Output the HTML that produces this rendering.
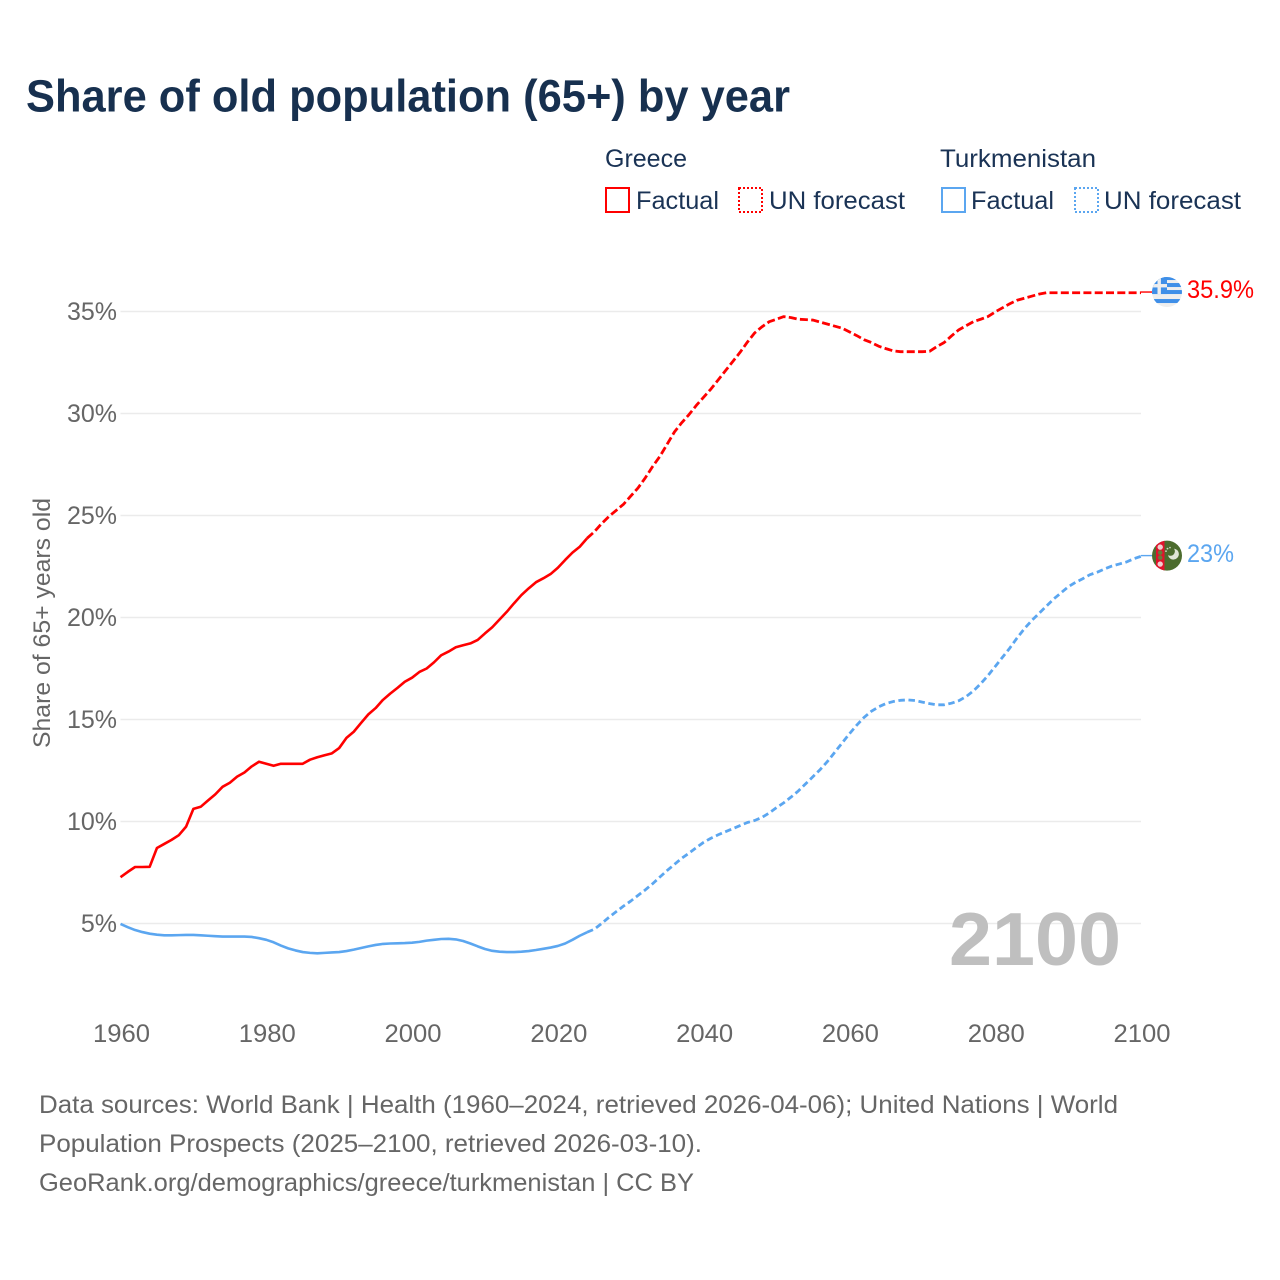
<!DOCTYPE html>
<html lang="en">
<head>
<meta charset="utf-8">
<title>Share of old population (65+) by year</title>
<style>
  html, body { margin: 0; padding: 0; background: #fff; }
  svg { display: block; font-family: "Liberation Sans", sans-serif; }
</style>
</head>
<body>
<svg id="chart" xmlns="http://www.w3.org/2000/svg" width="1280" height="1280" viewBox="0 0 1280 1280">
  <defs>
    <clipPath id="clip-flag"><circle cx="0" cy="0" r="15"></circle></clipPath>
  </defs>
  <rect x="0" y="0" width="1280" height="1280" fill="#ffffff"></rect>

  <text x="26" y="111.5" font-size="45" font-weight="700" fill="#17304f" textLength="764" lengthAdjust="spacingAndGlyphs">Share of old population (65+) by year</text>

  <g font-size="25" fill="#1a3355">
    <text x="605" y="167" textLength="82" lengthAdjust="spacingAndGlyphs">Greece</text>
    <text x="940" y="167" textLength="156" lengthAdjust="spacingAndGlyphs">Turkmenistan</text>
    <rect x="606" y="188" width="23" height="24" fill="none" stroke="#ff0000" stroke-width="2"></rect>
    <text x="636" y="209" textLength="83" lengthAdjust="spacingAndGlyphs">Factual</text>
    <rect x="739" y="188" width="23" height="24" fill="none" stroke="#ff0000" stroke-width="2" stroke-dasharray="2 2"></rect>
    <text x="769" y="209" textLength="136" lengthAdjust="spacingAndGlyphs">UN forecast</text>
    <rect x="942" y="188" width="23" height="24" fill="none" stroke="#5ba6f0" stroke-width="2"></rect>
    <text x="971" y="209" textLength="83" lengthAdjust="spacingAndGlyphs">Factual</text>
    <rect x="1075" y="188" width="23" height="24" fill="none" stroke="#5ba6f0" stroke-width="2" stroke-dasharray="2 2"></rect>
    <text x="1104" y="209" textLength="137" lengthAdjust="spacingAndGlyphs">UN forecast</text>
  </g>

  <g id="grid"></g>
  <g id="y-ticks" font-size="25" fill="#666666" text-anchor="end"></g>
  <g id="x-ticks" font-size="25" fill="#666666" text-anchor="middle"></g>

  <text transform="translate(50,623) rotate(-90)" text-anchor="middle" font-size="24" fill="#666666" textLength="250" lengthAdjust="spacingAndGlyphs">Share of 65+ years old</text>

  <text x="949" y="965" font-size="75" font-weight="700" fill="#bfbfbf" textLength="172" lengthAdjust="spacingAndGlyphs">2100</text>

  <g id="series"></g>

  <g id="flag-gr" clip-path="url(#clip-flag)">
    <rect x="-16" y="-16" width="32" height="32" fill="#eeeeee"></rect>
    <rect x="-16" y="-16" width="32" height="4" fill="#3f8fe8"></rect>
    <rect x="-16" y="-9" width="32" height="4" fill="#3f8fe8"></rect>
    <rect x="-16" y="-2" width="32" height="4" fill="#3f8fe8"></rect>
    <rect x="-16" y="7" width="32" height="4" fill="#3f8fe8"></rect>
    <rect x="-16" y="-16" width="16" height="18" fill="#3f8fe8"></rect>
    <rect x="-9.5" y="-16" width="3.4" height="18" fill="#eeeeee"></rect>
    <rect x="-16" y="-8" width="16" height="3.4" fill="#eeeeee"></rect>
  </g>
  <g id="flag-tm" clip-path="url(#clip-flag)">
    <rect x="-16" y="-16" width="32" height="32" fill="#4c6c2e"></rect>
    <rect x="-11" y="-16" width="8.5" height="32" fill="#e0132c"></rect>
    <circle cx="-6.8" cy="-8.5" r="2.7" fill="#f0d0d0"></circle>
    <circle cx="-6.8" cy="-3" r="2.3" fill="#6a7a3a"></circle>
    <circle cx="-6.8" cy="2" r="2.3" fill="#6a7a3a"></circle>
    <circle cx="-6.8" cy="8.5" r="2.7" fill="#f0d0d0"></circle>
    <path d="M7 -7 A5.5 5.5 0 1 1 1 -0.5 A4.5 4.5 0 0 0 7 -7 Z" fill="#dfe5d6"></path>
    <circle cx="0.5" cy="-7" r="0.9" fill="#cfd8c4"></circle>
    <circle cx="-1" cy="-4.5" r="0.9" fill="#cfd8c4"></circle>
    <circle cx="3" cy="-8" r="0.8" fill="#cfd8c4"></circle>
  </g>

  <text id="label-gr" x="1187" y="298" font-size="25" fill="#ff0000" textLength="67" lengthAdjust="spacingAndGlyphs">35.9%</text>
  <text id="label-tm" x="1187" y="562" font-size="25" fill="#5ba6f0" textLength="47" lengthAdjust="spacingAndGlyphs">23%</text>

  <g font-size="25" fill="#666666">
    <text x="39" y="1113" textLength="1079" lengthAdjust="spacingAndGlyphs">Data sources: World Bank | Health (1960–2024, retrieved 2026-04-06); United Nations | World</text>
    <text x="39" y="1152" textLength="663" lengthAdjust="spacingAndGlyphs">Population Prospects (2025–2100, retrieved 2026-03-10).</text>
    <text x="39" y="1191" textLength="655" lengthAdjust="spacingAndGlyphs">GeoRank.org/demographics/greece/turkmenistan | CC BY</text>
  </g>
</svg>
<script>
const xTicks = [1960, 1980, 2000, 2020, 2040, 2060, 2080, 2100];
const yTicks = [5, 10, 15, 20, 25, 30, 35];

const factualStartYear = 1960;
const forecastStartYear = 2024;

const greeceFactual = [
  7.27, 7.53, 7.77, 7.77, 7.78, 8.70, 8.90, 9.10, 9.33, 9.75,
  10.62, 10.72, 11.03, 11.33, 11.70, 11.90, 12.20, 12.40, 12.70, 12.93,
  12.83, 12.73, 12.83, 12.83, 12.83, 12.83, 13.03, 13.15, 13.25, 13.34,
  13.60, 14.10, 14.40, 14.83, 15.25, 15.56, 15.96, 16.27, 16.55, 16.85,
  17.05, 17.33, 17.50, 17.80, 18.15, 18.33, 18.54, 18.64, 18.73, 18.90,
  19.22, 19.52, 19.90, 20.28, 20.70, 21.10, 21.43, 21.73, 21.92, 22.13,
  22.44, 22.82, 23.18, 23.47, 23.88
];
const greeceForecast = [
  23.88, 24.20, 24.60, 24.95, 25.25, 25.55, 25.95, 26.35, 26.85, 27.40,
  27.90, 28.50, 29.10, 29.55, 29.95, 30.40, 30.80, 31.20, 31.65, 32.10,
  32.55, 33.00, 33.50, 33.95, 34.25, 34.50, 34.62, 34.75, 34.70, 34.62,
  34.60, 34.58, 34.48, 34.38, 34.28, 34.18, 34.00, 33.82, 33.62, 33.48,
  33.30, 33.18, 33.07, 33.03, 33.03, 33.03, 33.03, 33.05, 33.28, 33.48,
  33.80, 34.10, 34.30, 34.50, 34.62, 34.75, 34.98, 35.18, 35.38, 35.55,
  35.65, 35.75, 35.85, 35.92, 35.92, 35.92, 35.92, 35.92, 35.92, 35.92,
  35.92, 35.92, 35.92, 35.92, 35.92, 35.92, 35.92
];
const turkmenistanFactual = [
  4.98, 4.82, 4.68, 4.58, 4.50, 4.45, 4.42, 4.42, 4.43, 4.44,
  4.44, 4.42, 4.40, 4.38, 4.36, 4.36, 4.36, 4.36, 4.34, 4.28,
  4.20, 4.08, 3.92, 3.78, 3.68, 3.60, 3.56, 3.54, 3.56, 3.58,
  3.60, 3.65, 3.72, 3.80, 3.88, 3.95, 4.00, 4.02, 4.03, 4.04,
  4.06, 4.10, 4.16, 4.20, 4.24, 4.25, 4.22, 4.14, 4.02, 3.88,
  3.75, 3.66, 3.62, 3.60, 3.60, 3.62, 3.65, 3.70, 3.76, 3.82,
  3.90, 4.02, 4.20, 4.40, 4.57
];
const turkmenistanForecast = [
  4.57, 4.72, 5.00, 5.30, 5.58, 5.85, 6.10, 6.38, 6.65, 6.95,
  7.28, 7.60, 7.90, 8.20, 8.45, 8.72, 8.98, 9.18, 9.35, 9.50,
  9.65, 9.80, 9.95, 10.05, 10.20, 10.42, 10.68, 10.92, 11.20, 11.50,
  11.85, 12.20, 12.55, 12.95, 13.40, 13.85, 14.30, 14.72, 15.10, 15.40,
  15.62, 15.78, 15.88, 15.94, 15.96, 15.93, 15.85, 15.78, 15.72, 15.72,
  15.80, 15.92, 16.12, 16.40, 16.75, 17.15, 17.60, 18.05, 18.50, 19.00,
  19.45, 19.85, 20.20, 20.55, 20.90, 21.20, 21.50, 21.72, 21.90, 22.10,
  22.22, 22.38, 22.52, 22.62, 22.72, 22.88, 23.00
];

const NS = 'http://www.w3.org/2000/svg';
function xScale(year) { return 120.5 + (year - 1960) * (1141 - 120.5) / 140; }
function yScale(v) { return 923.5 - (v - 5) * 20.4; }

function linePath(values, startYear) {
  return values.map(function (v, i) {
    return (i ? 'L' : 'M') + xScale(startYear + i).toFixed(2) + ' ' + yScale(v).toFixed(2);
  }).join(' ');
}

const grid = document.getElementById('grid');
const yGroup = document.getElementById('y-ticks');
const xGroup = document.getElementById('x-ticks');
const seriesGroup = document.getElementById('series');

yTicks.forEach(function (t) {
  const line = document.createElementNS(NS, 'line');
  line.setAttribute('x1', xScale(1960));
  line.setAttribute('x2', xScale(2100));
  line.setAttribute('y1', yScale(t));
  line.setAttribute('y2', yScale(t));
  line.setAttribute('stroke', '#ebebeb');
  line.setAttribute('stroke-width', '1.6');
  
  
  grid.appendChild(line);

  const label = document.createElementNS(NS, 'text');
  label.setAttribute('x', 117);
  label.setAttribute('y', yScale(t) + 8.5);
  label.textContent = t + '%';
  
  
  yGroup.appendChild(label);
});

xTicks.forEach(function (t) {
  const label = document.createElementNS(NS, 'text');
  label.setAttribute('x', xScale(t) + 1);
  label.setAttribute('y', 1042);
  label.setAttribute('textLength', '57');
  label.setAttribute('lengthAdjust', 'spacingAndGlyphs');
  label.textContent = t;
  
  
  xGroup.appendChild(label);
});

function addLine(values, startYear, color, dash, width, name) {
  const p = document.createElementNS(NS, 'path');
  p.setAttribute('d', linePath(values, startYear));
  p.setAttribute('fill', 'none');
  p.setAttribute('stroke', color);
  p.setAttribute('stroke-width', width);
  p.setAttribute('stroke-linejoin', 'round');
  if (dash) p.setAttribute('stroke-dasharray', dash);
  
  
  seriesGroup.appendChild(p);
}
addLine(greeceFactual, factualStartYear, '#ff0000', null, '2.6', 'greece-factual-line');
addLine(greeceForecast, forecastStartYear, '#ff0000', '8 3.3', '2.8', 'greece-forecast-line');
addLine(turkmenistanFactual, factualStartYear, '#5ba6f0', null, '2.6', 'turkmenistan-factual-line');
addLine(turkmenistanForecast, forecastStartYear, '#5ba6f0', '6.5 3.6', '2.8', 'turkmenistan-forecast-line');

function placeEnd(values, color, flagId, labelId, name) {
  const end = values[values.length - 1];
  const yEnd = yScale(end);
  const c = document.createElementNS(NS, 'line');
  c.setAttribute('x1', xScale(2100));
  c.setAttribute('x2', 1153);
  c.setAttribute('y1', yEnd - 0.7);
  c.setAttribute('y2', yEnd - 0.7);
  c.setAttribute('stroke', color);
  c.setAttribute('stroke-width', '1.4');
  
  
  seriesGroup.appendChild(c);
  document.getElementById(flagId).setAttribute('transform', 'translate(1167,' + (yEnd - 0.7) + ')');
  document.getElementById(labelId).setAttribute('y', yEnd + 5.5);
}
placeEnd(greeceForecast, '#ff0000', 'flag-gr', 'label-gr', 'greece-flag-connector');
placeEnd(turkmenistanForecast, '#5ba6f0', 'flag-tm', 'label-tm', 'turkmenistan-flag-connector');
</script>
</body>
</html>
